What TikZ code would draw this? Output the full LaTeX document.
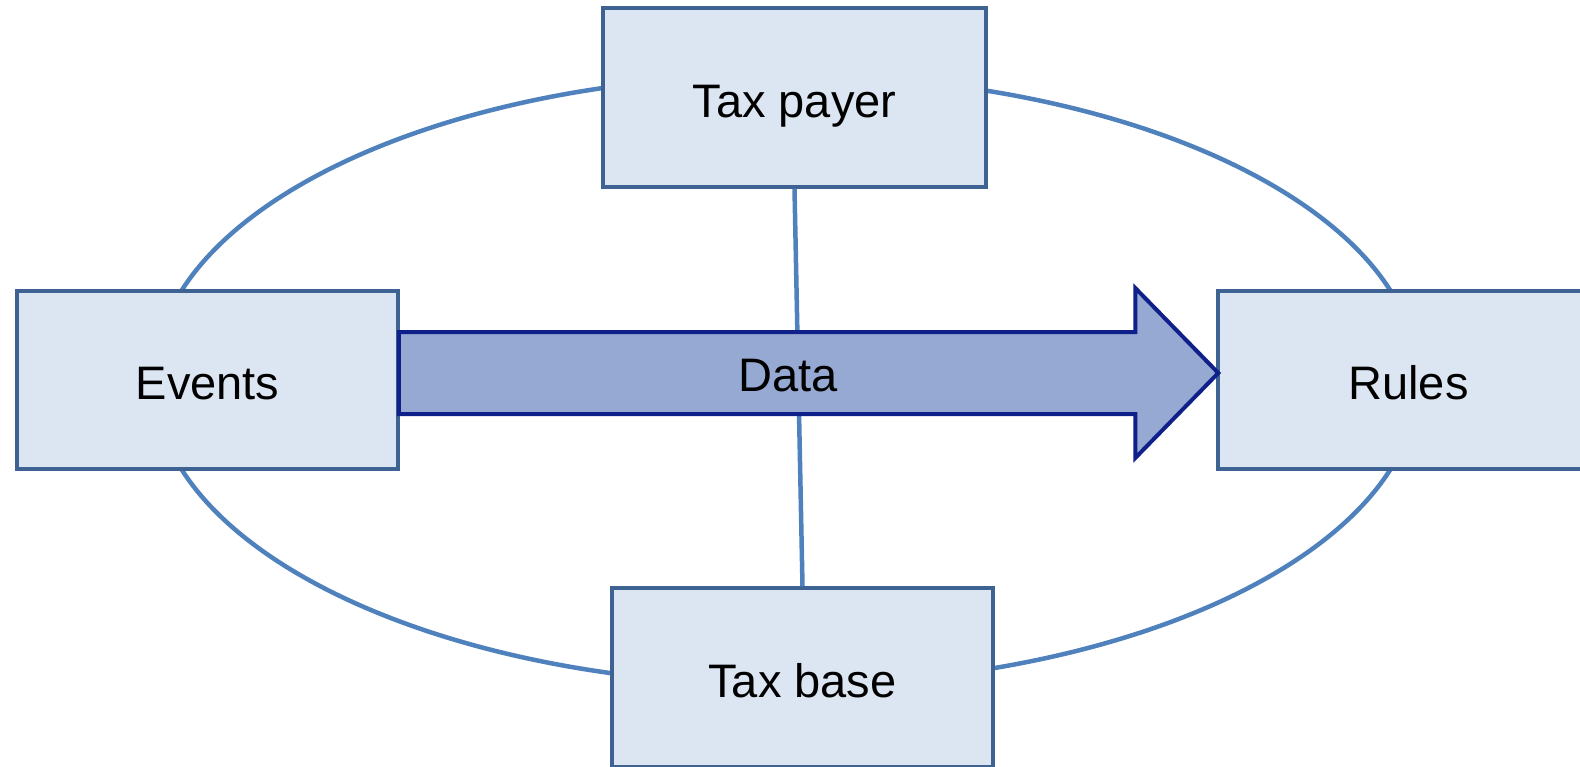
\documentclass[tikz,border=0pt]{standalone}
\usepackage{fontspec}
\setmainfont{Liberation Sans}
\usetikzlibrary{shapes.geometric,calc}
\definecolor{boxfill}{HTML}{DCE6F2}
\definecolor{boxline}{HTML}{3E6393}
\definecolor{ringline}{HTML}{4F81BD}
\definecolor{arrfill}{HTML}{95A9D3}
\definecolor{arrline}{HTML}{10208A}
\begin{document}
\begin{tikzpicture}[x=1pt,y=-1pt,
  txt/.style={font=\fontsize{47}{56}\selectfont, text=black},
  tbox/.style={txt, draw=boxline, fill=boxfill, line width=3.5pt, rectangle,
    minimum width=381pt, minimum height=178pt, inner sep=0pt,
    text height=39pt, text depth=0pt},
  ring/.style={ellipse, draw=ringline, line width=4.5pt, minimum width=1264pt,
    minimum height=610pt, inner sep=0pt},
  spoke/.style={draw=ringline, line width=4.5pt},
  bigarrow/.style={draw=arrline, fill=arrfill, line width=4pt, line join=miter}]
\useasboundingbox (0,0) rectangle (1580,766);
\node[ring] (loop) at (786,380) {};
\node[tbox] (events) at (207.5,380) {Events};
\node[tbox] (rules) at (1408.5,380) {Rules};
\node[tbox, minimum width=383pt, minimum height=179pt] (payer) at (794.5,97.5) {Tax payer};
\node[tbox, minimum height=179pt] (base) at (802.5,677.5) {Tax base};
\draw[spoke] (payer.south) -- (base.north);
\draw[bigarrow] ($(events.east)+(-1,-48)$) -- ($(rules.west)+(-81,-48)$)
  -- ($(rules.west)+(-81,-92)$) -- ($(rules.west)+(2,-7)$)
  -- ($(rules.west)+(-81,78)$) -- ($(rules.west)+(-81,34)$)
  -- ($(events.east)+(-1,34)$) -- cycle;
\node[txt] (data) at (788,376) {Data};
\end{tikzpicture}
\end{document}
